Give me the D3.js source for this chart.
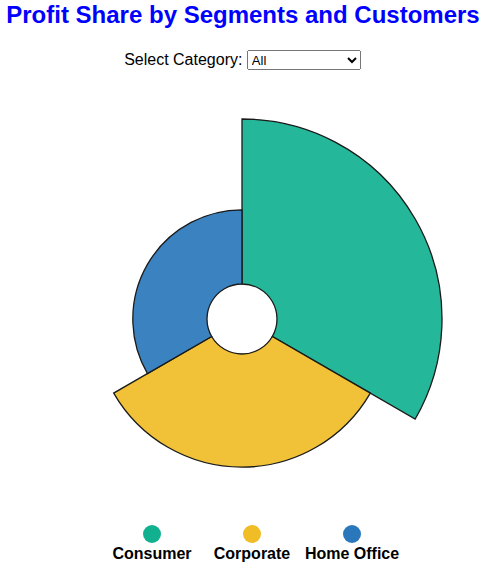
<!DOCTYPE html>
<html>
<head>
<meta charset="utf-8">
<script src="https://cdn.jsdelivr.net/npm/d3@7"></script>
<style>
  html, body { margin: 0; padding: 0; background: #fff; font-family: Arial, "Liberation Sans", sans-serif; }
  #title { position: absolute; left: 0; top: 1px; width: 486px; margin: 0; text-align: center; color: #0000ff; font-size: 24px; font-weight: bold; white-space: nowrap; }
  #controls { position: absolute; left: 0; top: 50px; width: 485px; text-align: center; font-size: 16px; color: #000; }
  #controls label { vertical-align: middle; }
  #controls select { width: 114px; height: 20px; font-size: 13px; font-family: Arial, "Liberation Sans", sans-serif; vertical-align: middle; margin-left: 0px; }
  svg { position: absolute; left: 0; top: 0; }
</style>
</head>
<body>
<h2 id="title">Profit Share by Segments and Customers</h2>
<div id="controls"><label for="cat">Select Category:</label> <select id="cat"></select></div>
<svg id="chart" width="486" height="572"></svg>
<script>
const segments = ["Consumer", "Corporate", "Home Office"];
const profits = [134119, 91979, 60299];
const colors = ["#11b190", "#f0bd27", "#2a77bb"];
const categoryOptions = ["All", "Furniture", "Office Supplies", "Technology"];

d3.select("#cat").selectAll("option").data(categoryOptions).join("option")
  .attr("value", d => d).text(d => d);

const svg = d3.select("#chart");
const cx = 242, cy = 319, innerR = 35, outerR = 200;

const data = segments.map((s, i) => ({ segment: s, profit: profits[i], color: colors[i] }));

const r = d3.scaleLinear().domain([0, d3.max(profits)]).range([innerR, outerR]);
const pie = d3.pie().value(() => 1).sort(null);
const arc = d3.arc().innerRadius(innerR).outerRadius(d => r(d.data.profit));

const g = svg.append("g").attr("transform", `translate(${cx},${cy})`);
g.selectAll("path").data(pie(data)).join("path")
  .attr("d", arc)
  .attr("fill", d => d.data.color)
  .attr("fill-opacity", 0.92)
  .attr("stroke", "#1a1a1a")
  .attr("stroke-width", 1.3);

const legendX = d3.scalePoint().domain(segments).range([152, 352]);
const lg = svg.append("g").selectAll("g").data(data).join("g")
  .attr("transform", d => `translate(${legendX(d.segment)},0)`);
lg.append("circle").attr("cx", 0).attr("cy", 534).attr("r", 9).attr("fill", d => d.color);
lg.append("text").attr("x", 0).attr("y", 558.5).attr("text-anchor", "middle")
  .attr("font-family", "Arial, 'Liberation Sans', sans-serif")
  .attr("font-size", 16).attr("font-weight", "bold").attr("fill", "#000")
  .text(d => d.segment);
</script>
</body>
</html>
